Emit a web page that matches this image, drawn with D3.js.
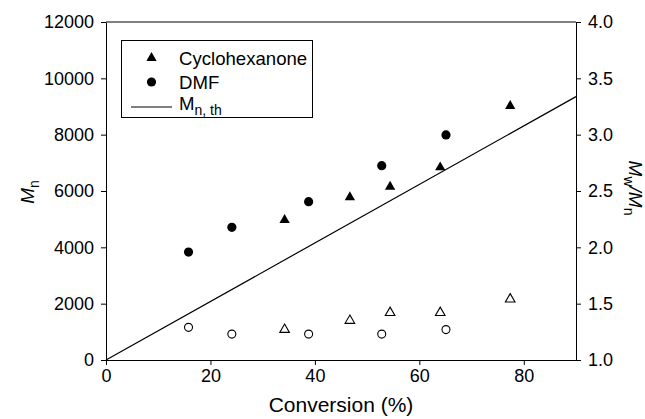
<!DOCTYPE html>
<html>
<head>
<meta charset="utf-8">
<script src="https://cdn.jsdelivr.net/npm/d3@7"></script>
<style>
  body { margin: 0; background: #fff; }
  svg text { font-family: "Liberation Sans", Arial, sans-serif; fill: #000; }
  .axis path, .axis line { stroke: #000; stroke-width: 1; }
</style>
</head>
<body>
<div id="chart"></div>
<script>
// conversion (%) and Mn for the two solvents, filled symbols (left axis)
const cyhConv = [34.2, 46.7, 54.4, 64.0, 77.4];
const cyhMn = [4970, 5780, 6150, 6840, 9020];
const dmfConv = [15.8, 24.1, 38.8, 52.8, 65.1];
const dmfMn = [3830, 4710, 5620, 6900, 7990];

// Mw/Mn, open symbols (right axis)
const cyhPdi = [1.27, 1.35, 1.42, 1.42, 1.54];
const dmfPdi = [1.29, 1.23, 1.23, 1.23, 1.27];

// theoretical Mn line
const thConv = [0, 90];
const thMn = [0, 9350];

const xTicks = [0, 20, 40, 60, 80];
const yTicks = [0, 2000, 4000, 6000, 8000, 10000, 12000];
const y2Ticks = [1.0, 1.5, 2.0, 2.5, 3.0, 3.5, 4.0];

const margin = { top: 22, right: 69, bottom: 59, left: 106 },
    W = 645, H = 419,
    width = W - margin.left - margin.right,
    height = H - margin.top - margin.bottom;

const svg = d3.select("#chart")
    .append("svg")
    .attr("width", W)
    .attr("height", H);

const g = svg.append("g")
    .attr("transform", "translate(" + margin.left + "," + margin.top + ")");

const x = d3.scaleLinear([0, 90], [0, width]);
const y = d3.scaleLinear([0, 12000], [height, 0]);
const y2 = d3.scaleLinear([1, 4], [height, 0]);

// top frame line
g.append("line")
    .attr("x1", 0).attr("x2", width)
    .attr("y1", 0).attr("y2", 0)
    .attr("stroke", "#000");

g.append("g")
    .attr("class", "axis")
    .attr("transform", "translate(0," + height + ")")
    .call(d3.axisBottom(x).tickValues(xTicks).tickFormat(d3.format("d")).tickSize(5).tickPadding(4).tickSizeOuter(0));

g.append("g")
    .attr("class", "axis")
    .call(d3.axisLeft(y).tickValues(yTicks).tickFormat(d3.format("d")).tickSize(5).tickPadding(7).tickSizeOuter(0));

g.append("g")
    .attr("class", "axis")
    .attr("transform", "translate(" + width + ",0)")
    .call(d3.axisRight(y2).tickValues(y2Ticks).tickFormat(d3.format(".1f")).tickSize(5).tickPadding(7).tickSizeOuter(0));

g.selectAll(".axis text")
    .style("font-family", "Liberation Sans, Arial, sans-serif")
    .style("font-size", "18px");

// theory line
const thData = thConv.map((c, i) => [c, thMn[i]]);
g.append("path")
    .datum(thData)
    .attr("fill", "none")
    .attr("stroke", "#000")
    .attr("stroke-width", 1.2)
    .attr("d", d3.line().x(d => x(d[0])).y(d => y(d[1])));

const tri = d3.symbol().type(d3.symbolTriangle).size(46);
const triOpen = d3.symbol().type(d3.symbolTriangle).size(40);

// filled triangles: cyclohexanone Mn
g.selectAll(".cyh")
    .data(cyhConv.map((c, i) => [c, cyhMn[i]]))
    .enter()
    .append("path")
    .attr("d", tri)
    .attr("transform", d => "translate(" + x(d[0]) + "," + y(d[1]) + ")")
    .attr("fill", "#000");

// filled circles: DMF Mn
g.selectAll(".dmf")
    .data(dmfConv.map((c, i) => [c, dmfMn[i]]))
    .enter()
    .append("circle")
    .attr("cx", d => x(d[0]))
    .attr("cy", d => y(d[1]))
    .attr("r", 4.6)
    .attr("fill", "#000");

// open triangles: cyclohexanone PDI
g.selectAll(".cyhp")
    .data(cyhConv.map((c, i) => [c, cyhPdi[i]]))
    .enter()
    .append("path")
    .attr("d", triOpen)
    .attr("transform", d => "translate(" + x(d[0]) + "," + y2(d[1]) + ")")
    .attr("fill", "#fff")
    .attr("stroke", "#000")
    .attr("stroke-width", 1.1);

// open circles: DMF PDI
g.selectAll(".dmfp")
    .data(dmfConv.map((c, i) => [c, dmfPdi[i]]))
    .enter()
    .append("circle")
    .attr("cx", d => x(d[0]))
    .attr("cy", d => y2(d[1]))
    .attr("r", 4)
    .attr("fill", "#fff")
    .attr("stroke", "#000")
    .attr("stroke-width", 1.1);

// axis titles
svg.append("text")
    .attr("x", margin.left + width / 2)
    .attr("y", 412)
    .attr("text-anchor", "middle")
    .style("font-size", "21px")
    .text("Conversion (%)");

const yTitle = svg.append("text")
    .attr("transform", "translate(34,192) rotate(-90)")
    .attr("text-anchor", "middle")
    .style("font-size", "19px");
yTitle.append("tspan").style("font-style", "italic").text("M");
yTitle.append("tspan").attr("dy", 5).style("font-size", "14px").text("n");

const y2Title = svg.append("text")
    .attr("transform", "translate(629,188) rotate(90)")
    .attr("text-anchor", "middle")
    .style("font-size", "19px");
y2Title.append("tspan").style("font-style", "italic").text("M");
y2Title.append("tspan").attr("dy", 5).style("font-size", "14px").text("w");
y2Title.append("tspan").attr("dy", -5).style("font-style", "italic").text("/M");
y2Title.append("tspan").attr("dy", 5).style("font-size", "14px").text("n");

// legend
const legend = svg.append("g");
legend.append("rect")
    .attr("x", 121.5).attr("y", 40.5)
    .attr("width", 191).attr("height", 77)
    .attr("fill", "#fff")
    .attr("stroke", "#000");

legend.append("path")
    .attr("d", tri)
    .attr("transform", "translate(151.5,58)");
legend.append("text")
    .attr("x", 179).attr("y", 64.5)
    .style("font-size", "18.6px")
    .text("Cyclohexanone");

legend.append("circle")
    .attr("cx", 151.5).attr("cy", 82)
    .attr("r", 4.6);
legend.append("text")
    .attr("x", 179).attr("y", 88.5)
    .style("font-size", "18.6px")
    .text("DMF");

legend.append("line")
    .attr("x1", 131).attr("x2", 172)
    .attr("y1", 107).attr("y2", 107)
    .attr("stroke", "#000")
    .attr("stroke-width", 1.2);
const lt = legend.append("text")
    .attr("x", 179).attr("y", 110)
    .style("font-size", "18.6px");
lt.append("tspan").text("M");
lt.append("tspan").attr("dy", 5).style("font-size", "14px").text("n, th");
</script>
</body>
</html>
